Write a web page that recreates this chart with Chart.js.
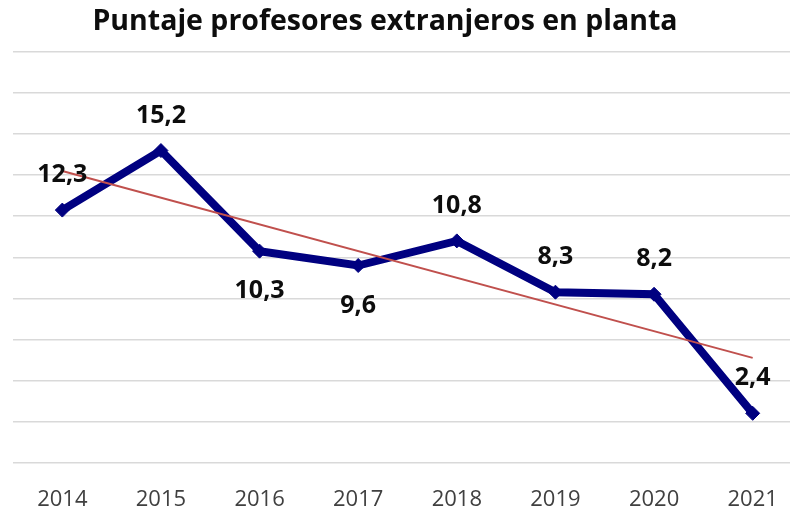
<!DOCTYPE html>
<html>
<head>
<meta charset="utf-8">
<script src="https://cdn.jsdelivr.net/npm/chart.js@4"></script>
<style>
  html, body { margin: 0; padding: 0; background: #fff; overflow: hidden; }
  /* the plot runs a little past the right edge, as in the original */
  #clip { position: relative; width: 790px; height: 511px; overflow: hidden; }
  #wrap { position: relative; width: 810px; height: 511px; }
  #title {
    position: absolute; left: 0; top: 2px; width: 770px;
    text-align: center; font: bold 28.5px "Open Sans", sans-serif;
    line-height: 34px; color: #0d0d0d;
  }
  #chart1 { display: block; }
</style>
</head>
<body>
<div id="clip">
  <div id="wrap">
    <div id="title">Puntaje profesores extranjeros en planta</div>
    <canvas id="chart1" width="810" height="511"></canvas>
  </div>
</div>
<script>
/* data */
const years = ['2014', '2015', '2016', '2017', '2018', '2019', '2020', '2021'];
const puntaje = [12.3, 15.2, 10.3, 9.6, 10.8, 8.3, 8.2, 2.4];
/* linear trend line, its two ends as they appear in the picture */
const trendStart = 14.2;
const trendEnd = 5.1;

/* which point labels sit under the point instead of above */
const labelsBelow = [2, 3];

/* small plugin that writes the value over each point (decimal comma) */
const pointLabels = {
  id: 'pointLabels',
  afterDatasetsDraw(chart) {
    const meta = chart.getDatasetMeta(1);
    const ctx = chart.ctx;
    ctx.save();
    ctx.font = 'bold 25px "Open Sans", sans-serif';
    ctx.fillStyle = '#0d0d0d';
    ctx.textAlign = 'center';
    ctx.textBaseline = 'middle';
    meta.data.forEach((pt, i) => {
      const txt = puntaje[i].toFixed(1).replace('.', ',');
      const dy = labelsBelow.includes(i) ? 40 : -35;
      ctx.fillText(txt, pt.x, pt.y + dy);
    });
    ctx.restore();
  }
};

const trendData = years.map((y, i) => i === 0 ? trendStart : (i === years.length - 1 ? trendEnd : null));

const chart1 = document.getElementById('chart1');
const myChart1 = new Chart(chart1, {
  type: 'line',
  data: {
    labels: years,
    datasets: [{
      label: 'Tendencia',
      data: trendData,
      spanGaps: true,
      borderColor: '#c0504d',
      borderWidth: 2,
      pointRadius: 0,
      order: 0
    }, {
      label: 'Puntaje',
      data: puntaje,
      borderColor: '#000080',
      backgroundColor: '#000080',
      borderWidth: 8,
      borderJoinStyle: 'miter',
      pointStyle: 'rectRot',
      pointRadius: 7,
      pointBorderWidth: 1,
      tension: 0,
      order: 1
    }]
  },
  options: {
    responsive: false,
    animation: false,
    layout: {
      padding: { left: 13, right: 0, top: 52, bottom: -18 }
    },
    plugins: {
      legend: { display: false },
      title: { display: false },
      tooltip: { enabled: false }
    },
    scales: {
      x: {
        offset: true,
        grid: { display: false },
        border: { display: false },
        ticks: {
          color: '#404040',
          padding: 16,
          font: { family: '"Open Sans", sans-serif', size: 22 }
        }
      },
      y: {
        min: 0,
        max: 20,
        ticks: { display: false, stepSize: 2 },
        border: { display: false },
        grid: { color: '#d9d9d9', lineWidth: 1.5, drawTicks: false }
      }
    }
  },
  plugins: [pointLabels]
});
</script>
</body>
</html>
